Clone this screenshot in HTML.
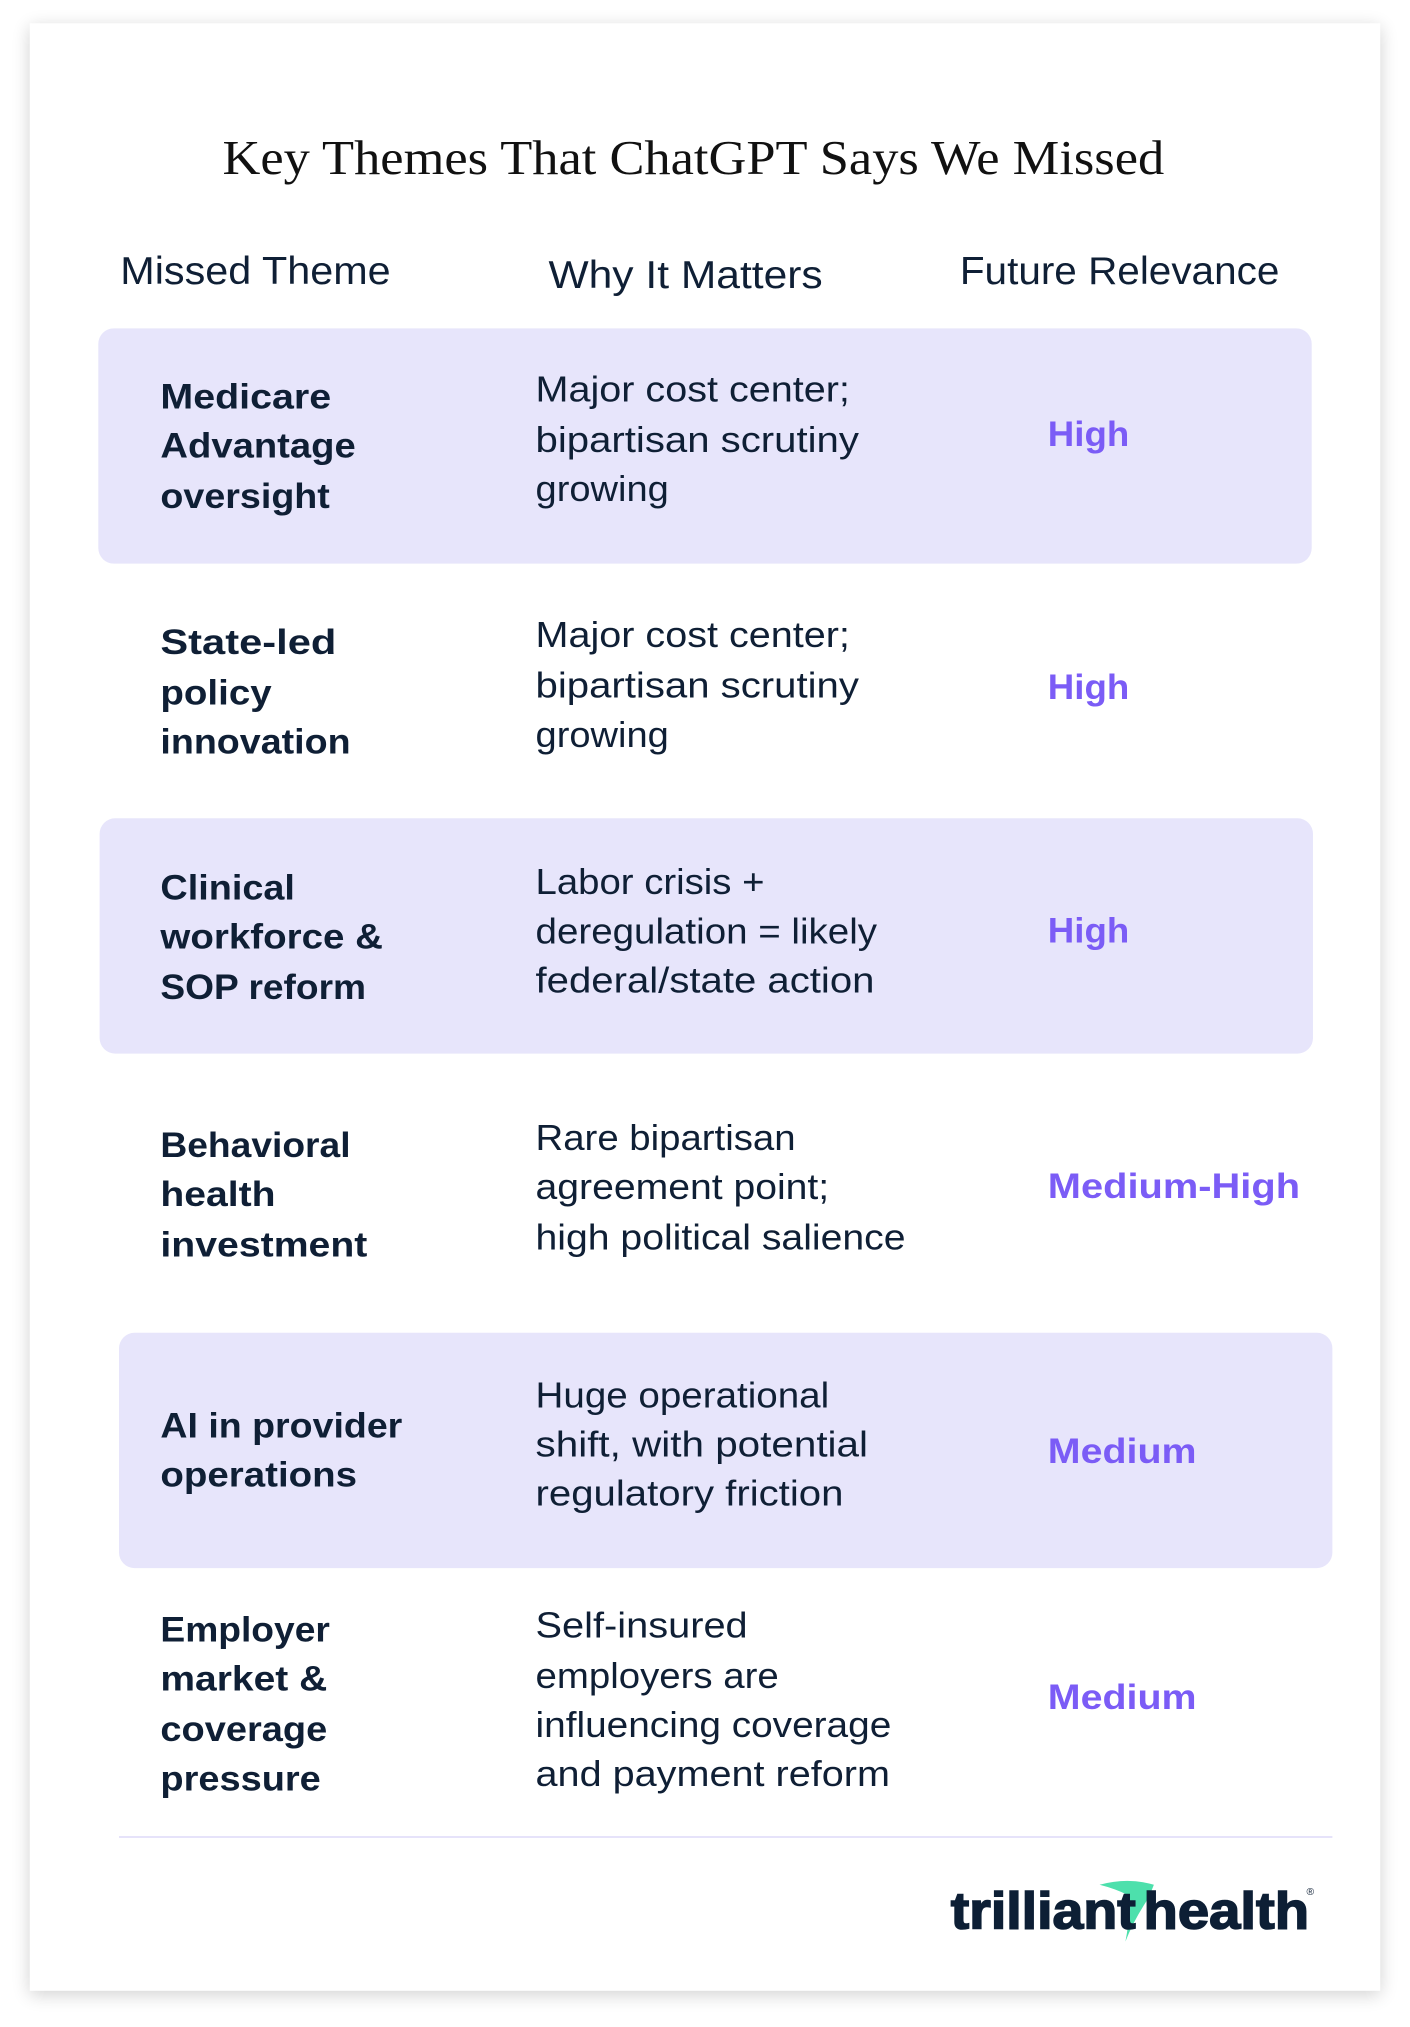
<!DOCTYPE html>
<html><head><meta charset="utf-8"><style>
html,body{margin:0;padding:0;background:#fff;width:1410px;height:2027px;overflow:hidden}
svg{display:block}
.b{font-family:"Liberation Sans",sans-serif;font-weight:bold;fill:#0f1f35;font-size:27px}
.r{font-family:"Liberation Sans",sans-serif;fill:#0f1f35;font-size:28px}
.h{font-family:"Liberation Sans",sans-serif;fill:#0f1f35;font-size:30px}
.p{font-family:"Liberation Sans",sans-serif;font-weight:bold;fill:#7b5cf6;font-size:27px}
</style></head><body>
<svg width="1410" height="2027" viewBox="0 0 1090 1568" preserveAspectRatio="none">
<defs><filter id="sh" x="-5%" y="-5%" width="110%" height="110%"><feGaussianBlur stdDeviation="7"/></filter></defs>
<rect x="23" y="21" width="1044" height="1522" fill="#000" opacity="0.18" filter="url(#sh)"/>
<rect x="23" y="18" width="1044" height="1522" fill="#fff"/>
<text x="172" y="122" dominant-baseline="central" textLength="728" lengthAdjust="spacingAndGlyphs" style="font-family:'Liberation Serif',serif;font-size:38px;fill:#111">Key Themes That ChatGPT Says We Missed</text>
<text class="h" x="93" y="210" dominant-baseline="central" textLength="209" lengthAdjust="spacingAndGlyphs">Missed Theme</text>
<text class="h" x="424" y="213" dominant-baseline="central" textLength="212" lengthAdjust="spacingAndGlyphs">Why It Matters</text>
<text class="h" x="742" y="210" dominant-baseline="central" textLength="247" lengthAdjust="spacingAndGlyphs">Future Relevance</text>
<rect x="76" y="254" width="938" height="182" rx="12" fill="#e7e5fb"/>
<rect x="77" y="633" width="938" height="182" rx="12" fill="#e7e5fb"/>
<rect x="92" y="1031" width="938" height="182" rx="12" fill="#e7e5fb"/>
<g>
<text class="b" x="124" y="307" dominant-baseline="central" textLength="132" lengthAdjust="spacingAndGlyphs">Medicare</text>
<text class="b" x="124" y="345" dominant-baseline="central" textLength="151" lengthAdjust="spacingAndGlyphs">Advantage</text>
<text class="b" x="124" y="384" dominant-baseline="central" textLength="131" lengthAdjust="spacingAndGlyphs">oversight</text>
<text class="r" x="414" y="301" dominant-baseline="central" textLength="243" lengthAdjust="spacingAndGlyphs">Major cost center;</text>
<text class="r" x="414" y="340" dominant-baseline="central" textLength="250" lengthAdjust="spacingAndGlyphs">bipartisan scrutiny</text>
<text class="r" x="414" y="378" dominant-baseline="central" textLength="103" lengthAdjust="spacingAndGlyphs">growing</text>
<text class="p" x="810" y="336" dominant-baseline="central" textLength="63" lengthAdjust="spacingAndGlyphs">High</text>
</g>
<g>
<text class="b" x="124" y="497" dominant-baseline="central" textLength="136" lengthAdjust="spacingAndGlyphs">State-led</text>
<text class="b" x="124" y="536" dominant-baseline="central" textLength="86" lengthAdjust="spacingAndGlyphs">policy</text>
<text class="b" x="124" y="574" dominant-baseline="central" textLength="147" lengthAdjust="spacingAndGlyphs">innovation</text>
<text class="r" x="414" y="491" dominant-baseline="central" textLength="243" lengthAdjust="spacingAndGlyphs">Major cost center;</text>
<text class="r" x="414" y="530" dominant-baseline="central" textLength="250" lengthAdjust="spacingAndGlyphs">bipartisan scrutiny</text>
<text class="r" x="414" y="568" dominant-baseline="central" textLength="103" lengthAdjust="spacingAndGlyphs">growing</text>
<text class="p" x="810" y="532" dominant-baseline="central" textLength="63" lengthAdjust="spacingAndGlyphs">High</text>
</g>
<g>
<text class="b" x="124" y="687" dominant-baseline="central" textLength="104" lengthAdjust="spacingAndGlyphs">Clinical</text>
<text class="b" x="124" y="725" dominant-baseline="central" textLength="172" lengthAdjust="spacingAndGlyphs">workforce &amp;</text>
<text class="b" x="124" y="764" dominant-baseline="central" textLength="159" lengthAdjust="spacingAndGlyphs">SOP reform</text>
<text class="r" x="414" y="682" dominant-baseline="central" textLength="177" lengthAdjust="spacingAndGlyphs">Labor crisis +</text>
<text class="r" x="414" y="720" dominant-baseline="central" textLength="264" lengthAdjust="spacingAndGlyphs">deregulation = likely</text>
<text class="r" x="414" y="758" dominant-baseline="central" textLength="262" lengthAdjust="spacingAndGlyphs">federal/state action</text>
<text class="p" x="810" y="720" dominant-baseline="central" textLength="63" lengthAdjust="spacingAndGlyphs">High</text>
</g>
<g>
<text class="b" x="124" y="886" dominant-baseline="central" textLength="147" lengthAdjust="spacingAndGlyphs">Behavioral</text>
<text class="b" x="124" y="924" dominant-baseline="central" textLength="89" lengthAdjust="spacingAndGlyphs">health</text>
<text class="b" x="124" y="963" dominant-baseline="central" textLength="160" lengthAdjust="spacingAndGlyphs">investment</text>
<text class="r" x="414" y="880" dominant-baseline="central" textLength="201" lengthAdjust="spacingAndGlyphs">Rare bipartisan</text>
<text class="r" x="414" y="918" dominant-baseline="central" textLength="227" lengthAdjust="spacingAndGlyphs">agreement point;</text>
<text class="r" x="414" y="957" dominant-baseline="central" textLength="286" lengthAdjust="spacingAndGlyphs">high political salience</text>
<text class="p" x="810" y="918" dominant-baseline="central" textLength="195" lengthAdjust="spacingAndGlyphs">Medium-High</text>
</g>
<g>
<text class="b" x="124" y="1103" dominant-baseline="central" textLength="187" lengthAdjust="spacingAndGlyphs">AI in provider</text>
<text class="b" x="124" y="1141" dominant-baseline="central" textLength="152" lengthAdjust="spacingAndGlyphs">operations</text>
<text class="r" x="414" y="1079" dominant-baseline="central" textLength="227" lengthAdjust="spacingAndGlyphs">Huge operational</text>
<text class="r" x="414" y="1117" dominant-baseline="central" textLength="257" lengthAdjust="spacingAndGlyphs">shift, with potential</text>
<text class="r" x="414" y="1155" dominant-baseline="central" textLength="238" lengthAdjust="spacingAndGlyphs">regulatory friction</text>
<text class="p" x="810" y="1123" dominant-baseline="central" textLength="115" lengthAdjust="spacingAndGlyphs">Medium</text>
</g>
<g>
<text class="b" x="124" y="1261" dominant-baseline="central" textLength="131" lengthAdjust="spacingAndGlyphs">Employer</text>
<text class="b" x="124" y="1299" dominant-baseline="central" textLength="129" lengthAdjust="spacingAndGlyphs">market &amp;</text>
<text class="b" x="124" y="1338" dominant-baseline="central" textLength="129" lengthAdjust="spacingAndGlyphs">coverage</text>
<text class="b" x="124" y="1376" dominant-baseline="central" textLength="124" lengthAdjust="spacingAndGlyphs">pressure</text>
<text class="r" x="414" y="1257" dominant-baseline="central" textLength="164" lengthAdjust="spacingAndGlyphs">Self-insured</text>
<text class="r" x="414" y="1296" dominant-baseline="central" textLength="188" lengthAdjust="spacingAndGlyphs">employers are</text>
<text class="r" x="414" y="1334" dominant-baseline="central" textLength="275" lengthAdjust="spacingAndGlyphs">influencing coverage</text>
<text class="r" x="414" y="1372" dominant-baseline="central" textLength="274" lengthAdjust="spacingAndGlyphs">and payment reform</text>
<text class="p" x="810" y="1313" dominant-baseline="central" textLength="115" lengthAdjust="spacingAndGlyphs">Medium</text>
</g>
<line x1="92" y1="1421" x2="1030" y2="1421" stroke="#e6e3fa" stroke-width="1.5"/>
<g>
<path d="M850 1458 Q872 1452 892 1458 L888 1468 Q876 1486 870 1502 Q874 1482 872 1466 Q862 1461 850 1458 Z" fill="#4de0ac"/>
<text x="735" y="1478" dominant-baseline="central" textLength="143" lengthAdjust="spacingAndGlyphs" style="font-family:'Liberation Sans',sans-serif;font-weight:bold;font-size:40px;fill:#0d1f35;stroke:#0d1f35;stroke-width:1.2">trilliant</text>
<text x="884" y="1478" dominant-baseline="central" textLength="128" lengthAdjust="spacingAndGlyphs" style="font-family:'Liberation Sans',sans-serif;font-weight:bold;font-size:40px;fill:#0d1f35;stroke:#0d1f35;stroke-width:1.2">health</text>
<text x="1010" y="1466" style="font-family:'Liberation Sans',sans-serif;font-size:8px;fill:#0d1f35">®</text>
</g>
</svg>
</body></html>
